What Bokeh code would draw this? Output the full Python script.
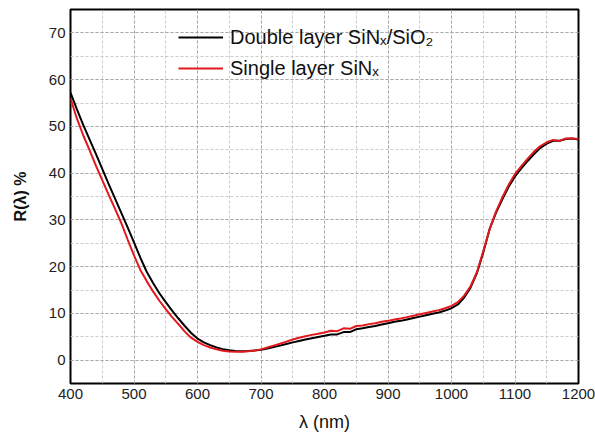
from bokeh.plotting import figure
from bokeh.models import SingleIntervalTicker, Legend, LegendItem
from bokeh.embed import file_html
from bokeh.resources import INLINE

# Wavelength (nm)
wl = [400, 410, 420, 430, 440, 450, 460, 470, 480, 490, 500, 510, 520, 530, 540,
      550, 560, 570, 580, 590, 600, 610, 620, 630, 640, 650, 660, 670, 680, 690,
      700, 710, 720, 730, 740, 750, 760, 770, 780, 790, 800, 810, 820, 830, 840,
      850, 860, 870, 880, 890, 900, 910, 920, 930, 940, 950, 960, 970, 980, 990,
      1000, 1010, 1020, 1030, 1040, 1050, 1060, 1070, 1080, 1090, 1100, 1110, 1120,
      1130, 1140, 1150, 1160, 1170, 1180, 1190, 1200]

# Double layer SiNx/SiO2 reflectance (%)
r_double = [57.2, 53.7, 50.3, 47.2, 44.1, 40.9, 37.7, 34.6, 31.5, 28.4, 25.2, 21.9,
            18.9, 16.5, 14.3, 12.4, 10.6, 8.9, 7.3, 5.8, 4.6, 3.8, 3.2, 2.7, 2.35,
            2.1, 1.95, 1.9, 1.95, 2.05, 2.2, 2.5, 2.8, 3.1, 3.45, 3.8, 4.1, 4.4, 4.7,
            4.95, 5.2, 5.5, 5.5, 6.0, 6.0, 6.6, 6.8, 7.1, 7.3, 7.6, 7.9, 8.2, 8.4,
            8.7, 9.0, 9.3, 9.6, 9.9, 10.2, 10.6, 11.1, 11.9, 13.4, 15.5, 18.6, 23.0,
            28.0, 31.5, 34.4, 37.1, 39.3, 41.0, 42.6, 44.1, 45.4, 46.3, 46.9, 46.9,
            47.3, 47.4, 47.2]

# Single layer SiNx reflectance (%)
r_single = [56.0, 51.7, 48.1, 44.9, 41.6, 38.5, 35.4, 32.4, 29.3, 25.8, 22.4, 19.3,
            16.9, 14.7, 12.7, 10.9, 9.2, 7.7, 6.1, 4.8, 3.9, 3.2, 2.7, 2.3, 2.0,
            1.85, 1.8, 1.8, 1.9, 2.05, 2.3, 2.7, 3.1, 3.5, 3.95, 4.4, 4.8, 5.1, 5.4,
            5.65, 5.9, 6.3, 6.2, 6.8, 6.7, 7.3, 7.4, 7.7, 7.9, 8.2, 8.4, 8.7, 8.9,
            9.2, 9.5, 9.8, 10.1, 10.4, 10.7, 11.1, 11.6, 12.4, 13.8, 15.8, 18.8, 23.3,
            28.0, 31.7, 34.8, 37.5, 39.8, 41.5, 43.1, 44.6, 45.8, 46.6, 47.1, 46.9,
            47.4, 47.4, 47.3]

labels = ["Double layer SiN\u2093/SiO\u2082", "Single layer SiN\u2093"]
colors = ["#000000", "#e3181c"]

FONT = "Liberation Sans"

p = figure(width=595, height=439, x_range=(400, 1200), y_range=(-5, 75),
           output_backend="svg", toolbar_location=None,
           min_border_left=70, min_border_right=17, min_border_top=9,
           min_border_bottom=56)

p.outline_line_color = "black"
p.outline_line_width = 2
p.background_fill_color = "white"
p.border_fill_color = "white"

p.xaxis.ticker = SingleIntervalTicker(interval=100, num_minor_ticks=2)
p.yaxis.ticker = SingleIntervalTicker(interval=10, num_minor_ticks=2)

for ax in (p.xaxis, p.yaxis):
    ax.axis_line_color = None
    ax.major_tick_line_color = None
    ax.minor_tick_line_color = None
    ax.major_tick_out = 0
    ax.major_tick_in = 0
    ax.minor_tick_out = 0
    ax.minor_tick_in = 0
    ax.major_label_text_font = FONT
    ax.major_label_text_font_size = "15px"
    ax.major_label_text_color = "#222222"
    ax.axis_label_text_font = FONT
    ax.axis_label_text_color = "#111111"
    ax.major_label_standoff = 5

p.xaxis.axis_label = "\u03bb (nm)"
p.xaxis.axis_label_text_font_size = "18px"
p.xaxis.axis_label_text_font_style = "normal"
p.xaxis.axis_label_standoff = 10

p.yaxis.axis_label = "R(\u03bb) %"
p.yaxis.axis_label_text_font_size = "16px"
p.yaxis.axis_label_text_font_style = "bold"
p.yaxis.axis_label_standoff = 17

for g in (p.xgrid, p.ygrid):
    g.grid_line_color = "#a8a8a8"
    g.grid_line_dash = "3 2"
    g.grid_line_width = 1
    g.minor_grid_line_color = "#cccccc"
    g.minor_grid_line_dash = "3 2"
    g.minor_grid_line_width = 1

l1 = p.line(wl, r_double, line_color=colors[0], line_width=2)
l2 = p.line(wl, r_single, line_color=colors[1], line_width=2)

legend = Legend(items=[LegendItem(label=labels[0], renderers=[l1]),
                       LegendItem(label=labels[1], renderers=[l2])],
                location=(108, 303))
legend.background_fill_alpha = 0
legend.border_line_color = None
legend.glyph_width = 45
legend.glyph_height = 24
legend.label_height = 24
legend.label_standoff = 7
legend.spacing = 7
legend.padding = 0
legend.margin = 0
legend.label_text_font = FONT
legend.label_text_font_size = "20px"
legend.label_text_color = "#111111"
p.add_layout(legend, "center")

open("out.html", "w").write(file_html(p, INLINE))
